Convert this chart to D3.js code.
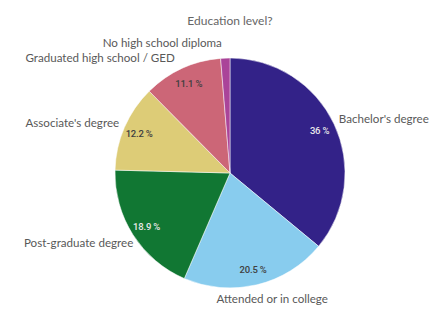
<!DOCTYPE html>
<html><head><meta charset="utf-8">
<script src="https://cdn.jsdelivr.net/npm/d3@7"></script>
<style>body{margin:0;background:#fff}svg{display:block}</style>
</head><body>
<svg id="c" width="444" height="314"></svg>
<script>
const title = "Education level?";
const categories = ["Bachelor's degree","Attended or in college","Post-graduate degree","Associate's degree","Graduated high school / GED","No high school diploma"];
const values = [36, 20.5, 18.9, 12.2, 11.1, 1.3];
const valueLabels = ["36 %","20.5 %","18.9 %","12.2 %","11.1 %",""];
const colors = ["#332288","#88CCEE","#117733","#DDCC77","#CC6677","#AA4499"];
const labelInk = ["#e8e8e8","#404040","#e8e8e8","#404040","#404040","#404040"];

const W = 444, H = 314, cx = 230, cy = 173, R = 115;
const svg = d3.select("#c");
const font = "Lato, 'Open Sans', sans-serif";

svg.append("text").attr("x", cx).attr("y", 20).attr("text-anchor","middle")
  .attr("dominant-baseline","central").attr("font-family", font).attr("font-size", 12)
  .attr("fill","#666").text(title);

const data = categories.map((c,i)=>({cat:c, v:values[i], i}));
const pie = d3.pie().value(d=>d.v).sort(null);
const arcs = pie(data);
const arc = d3.arc().innerRadius(0).outerRadius(R);
const g = svg.append("g").attr("transform",`translate(${cx},${cy})`);
g.selectAll("path").data(arcs).join("path").attr("d", arc)
  .attr("fill", d=>colors[d.data.i]).attr("stroke","#fff").attr("stroke-width",0.5);

const inner = d3.arc().innerRadius(99).outerRadius(99);
g.selectAll("text.v").data(arcs).join("text").attr("class","v")
  .attr("transform", d=>`translate(${inner.centroid(d)})`)
  .attr("text-anchor","middle").attr("dominant-baseline","central")
  .attr("font-family", "Roboto, sans-serif").attr("font-size", 9.5).attr("font-weight", 500)
  .attr("letter-spacing", -0.2)
  .attr("fill", d=>labelInk[d.data.i]).text(d=>valueLabels[d.data.i]);

// outer labels
const Rl = R + 10;
const labs = arcs.map(d=>{
  const a = (d.startAngle + d.endAngle)/2;
  const c = Math.cos(a);
  return {d, a, s: Math.sin(a), px: cx + Rl*Math.sin(a), py: cy - Rl*c + (c < 0 ? -c*4 : -c*2)};
});
const left = labs.filter(l=>l.s<0).sort((a,b)=>b.py-a.py);
for (let k=1;k<left.length;k++){
  if (left[k-1].py - left[k].py < 15) left[k].py = left[k-1].py - 15;
}
const lt = svg.selectAll("text.l").data(labs).join("text").attr("class","l")
  .attr("font-family", font).attr("font-size", 11.6).attr("fill","#595959")
  .attr("dominant-baseline","central").attr("y", l=>l.py)
  .text(l=>l.d.data.cat);
lt.each(function(l){
  const w = this.getComputedTextLength();
  let x;
  if (l.s > 0 || Math.abs(l.s) >= 0.6) x = l.px - w*(1 - l.s)/2;
  else x = l.px - w - 3;
  d3.select(this).attr("x", x);
});
</script>
</body></html>
